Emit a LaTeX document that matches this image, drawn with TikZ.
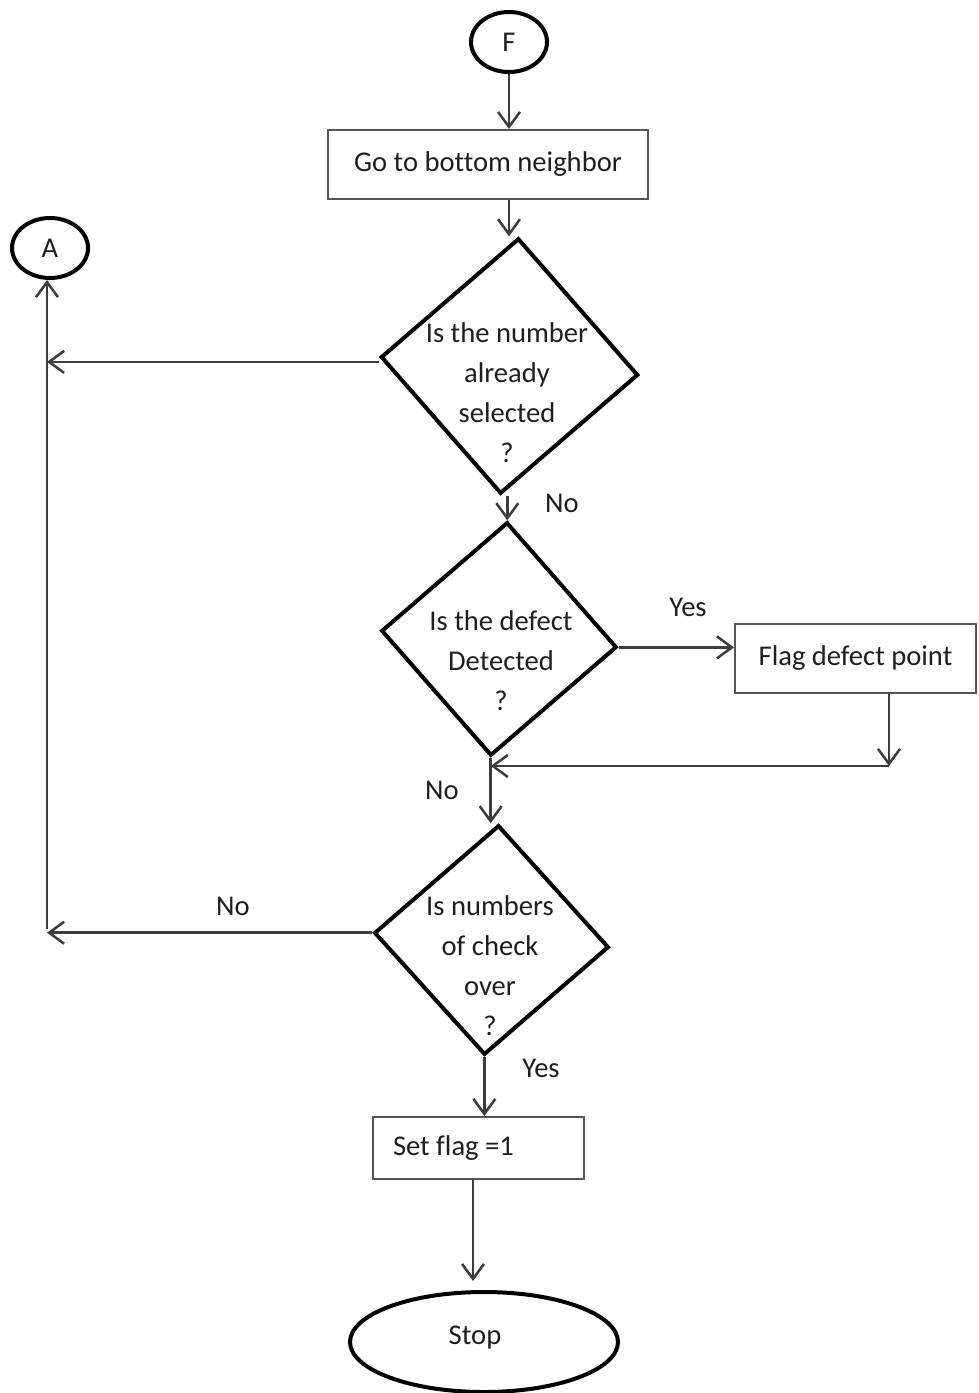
\documentclass[tikz,border=0pt]{standalone}
\usepackage{fontspec}
\setmainfont[Ligatures=NoCommon]{Carlito}
\usetikzlibrary{shapes.geometric,arrows.meta}

\definecolor{linec}{HTML}{3C3C3C}
\definecolor{boxc}{HTML}{555555}
\definecolor{inkc}{HTML}{1E1E1E}

\begin{document}
\begin{tikzpicture}[x=1pt,y=-1pt,
  font=\fontsize{28.6}{40}\selectfont,
  every node/.style={text=inkc},
  conn/.style={draw=linec, line width=2.5pt,
    -{Straight Barb[length=15pt,width=22pt]}},
  term/.style={ellipse, draw=black, line width=4pt, inner sep=0pt},
  procbox/.style={rectangle, draw=boxc, line width=2pt, inner sep=0pt},
  decide/.style={diamond, draw=black, line width=4pt, inner sep=0pt,
    line join=miter},
  dtext/.style={align=center, inner sep=0pt},
  lbl/.style={inner sep=0pt}]

\useasboundingbox (0,0) rectangle (978,1393);

% terminals and connectors to other pages
\node[term, minimum width=76pt, minimum height=60pt] (F) at (509,42) {F};
\node[term, minimum width=76pt, minimum height=60pt] (A) at (50,248) {A};

% process boxes
\node[procbox, minimum width=320pt, minimum height=69pt] (go) at (488,164.5)
  {Go to bottom neighbor};
\node[procbox, minimum width=241pt, minimum height=69pt] (flag) at (855.5,658.5)
  {Flag defect point};
\node[procbox, minimum width=211pt, minimum height=62pt, text width=171pt,
  inner xsep=20pt, align=flush left] (set) at (478.5,1148) {Set flag =1};

% decisions
\node[decide, minimum width=258pt, minimum height=256pt, rotate=-4] (d1)
  at (509.5,366) {};
\node[dtext] (d1t) at (507,393) {Is the number\\already\\selected\\?};

\node[decide, minimum width=236pt, minimum height=234pt, rotate=-4] (d2)
  at (499,639) {};
\node[dtext] (d2t) at (501,661) {Is the defect\\Detected\\?};

\node[decide, minimum width=235pt, minimum height=230pt, rotate=-3.5] (d3)
  at (491.5,940) {};
\node[dtext] (d3t) at (490,966) {Is numbers\\of check\\over\\?};

% end
\node[term, minimum width=268pt, minimum height=100pt] (stop) at (484,1342) {};
\node (stopt) at (475,1338) {Stop};

% helper points
\coordinate (corner) at (47,929);
\coordinate (fj) at (889,766);

% flow
\draw[conn] (F.south) -- (F.south |- go.north);
\draw[conn] (F.south |- go.south) -- (F.south |- d1.north);
\draw[conn] ([yshift=-5pt]d1.west) -- ([yshift=-5pt]d1.west -| corner);
\draw[conn] (d2.north |- d1.south) -- (d2.north);
\draw[conn] (d2.east) -- (flag.west |- d2.east);
\draw[conn] (flag.south -| fj) -- (fj);
\draw[conn] (fj) -- (fj -| d2.south);
\draw[conn] (d2.south) -- (d2.south |- d3.north);
\draw[conn] (d3.west) -- (d3.west -| corner);
\draw[conn] (corner) -- (corner |- A.south);
\draw[conn] (d3.south) -- (d3.south |- set.north);
\draw[conn, shorten >=9pt] ([xshift=-5.5pt]set.south)
  -- ([xshift=-5.5pt]set.south |- stop.north);

% branch labels
\node[lbl] (l1) at (562,503) {No};
\node[lbl] (l2) at (688,607) {Yes};
\node[lbl] (l3) at (442,790) {No};
\node[lbl] (l4) at (233,906) {No};
\node[lbl] (l5) at (541,1068) {Yes};

\end{tikzpicture}
\end{document}
